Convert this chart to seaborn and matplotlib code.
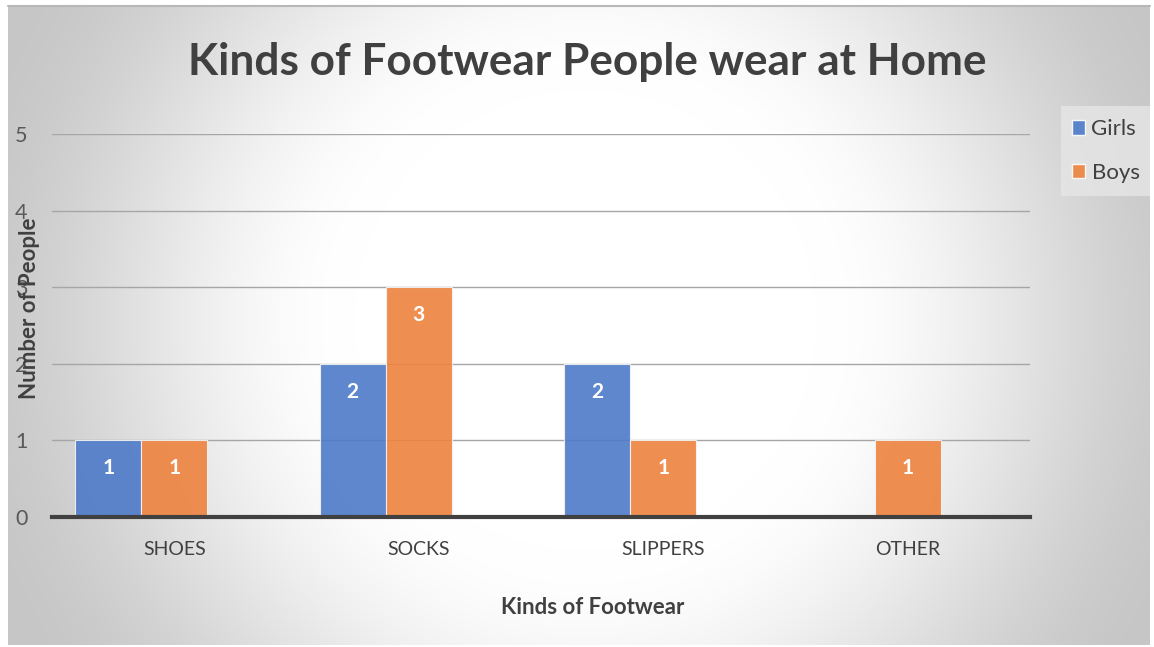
import numpy as np
import pandas as pd
import matplotlib
matplotlib.use("Agg")
import matplotlib.pyplot as plt
import seaborn as sns
from matplotlib.patches import Rectangle

# ---- data ----
categories = ["SHOES", "SOCKS", "SLIPPERS", "OTHER"]
girls = [1, 2, 2, 0]
boys = [1, 3, 1, 1]
series_names = ["Girls", "Boys"]
y_ticks = [0, 1, 2, 3, 4, 5]
title_text = "Kinds of Footwear People wear at Home"
x_label = "Kinds of Footwear"
y_label = "Number of People"

sns.set_theme(style="white")
plt.rcParams["font.family"] = ["Lato", "DejaVu Sans"]

df = pd.DataFrame({
    "Category": categories * 2,
    "Series": [series_names[0]] * len(categories) + [series_names[1]] * len(categories),
    "Count": girls + boys,
})

W, H = 1154, 647
fig = plt.figure(figsize=(W / 100, H / 100), dpi=100)
fig.patch.set_facecolor("white")

# ---- radial gradient background ----
bx0, by0, bx1, by1 = 8, 6, 1150, 645  # pixel box (top-left origin)
bg = fig.add_axes([bx0 / W, 1 - by1 / H, (bx1 - bx0) / W, (by1 - by0) / H])
bw, bh = bx1 - bx0, by1 - by0
yy, xx = np.mgrid[0:bh, 0:bw]
cx, cy = 585 - bx0, 320 - by0
dist = np.sqrt((xx - cx) ** 2 + (yy - cy) ** 2)
dn = dist / np.sqrt(cx ** 2 + cy ** 2)
t = np.clip((dn - 0.35) / 0.65, 0, 1)
s = 3 * t ** 2 - 2 * t ** 3
val = (255 - 57 * s) / 255.0
img = np.dstack([val, val, val])
bg.imshow(img, aspect="auto", extent=[0, 1, 0, 1], origin="upper", interpolation="bilinear")
bg.set_axis_off()
bg.plot([0, 1], [1, 1], color="#B8B8B8", lw=1.5, transform=bg.transAxes, clip_on=False)

# ---- plot axes ----
ax = fig.add_axes([52 / W, 1 - 517 / H, (1030 - 52) / W, (517 - 134) / H])
ax.patch.set_alpha(0)

palette = {"Girls": "#4D7AC9", "Boys": "#ED833E", " ": "#FFFFFF"}
# Excel reserves a third (empty) slot in each group, so the Boys bar sits on the category centre
hue_slots = series_names + [" "]
sns.barplot(data=df, x="Category", y="Count", hue="Series", order=categories,
            hue_order=hue_slots, palette=palette, width=0.81, gap=0, saturation=1,
            alpha=0.9, edgecolor="#F4F4F4", linewidth=0.8, legend=False, ax=ax,
            zorder=3)

ax.set_ylim(0, 5)
ax.set_xlim(-0.5, len(categories) - 0.5)
ax.set_yticks(y_ticks)
ax.yaxis.grid(True, color="#A6A6A6", linewidth=1.0, zorder=0)
ax.set_axisbelow(True)
for sp in ["top", "right", "left"]:
    ax.spines[sp].set_visible(False)
ax.spines["bottom"].set_color("#404040")
ax.spines["bottom"].set_linewidth(3)
ax.spines["bottom"].set_zorder(5)
ax.tick_params(axis="y", length=0, pad=22, labelsize=15.5, labelcolor="#595959")
ax.tick_params(axis="x", length=0, pad=17.5, labelsize=14, labelcolor="#404040")
for lab in ax.get_yticklabels():
    lab.set_horizontalalignment("center")
ax.set_xlabel("")
ax.set_ylabel("")

fig.text(593 / W, 1 - 608 / H, x_label, ha="center", va="center",
         fontsize=16, fontweight="bold", color="#404040")

# y label overlapping tick labels, as in the reference
fig.text(30 / W, 1 - 308 / H, y_label, rotation=90, ha="center", va="center",
         fontsize=16, fontweight="bold", color="#404040")

# data labels inside end
for p in ax.patches:
    h = p.get_height()
    if h and h > 0:
        ax.annotate(f"{int(round(h))}", (p.get_x() + p.get_width() / 2, h),
                    xytext=(0, -20), textcoords="offset points",
                    ha="center", va="center", fontsize=15, fontweight="bold",
                    color="white", zorder=6)

# title
fig.text(587 / W, 1 - 62 / H, title_text, ha="center", va="center",
         fontsize=31.8, fontweight="bold", color="#404040")

# legend
leg_ax = fig.add_axes([1061 / W, 1 - 196 / H, 89 / W, 90 / H])
leg_ax.set_axis_off()
leg_ax.add_patch(Rectangle((0, 0), 1, 1, transform=leg_ax.transAxes,
                           facecolor="#E6E6E6", edgecolor="none", alpha=0.8))
handles = [Rectangle((0, 0), 1, 1, facecolor=palette[n], alpha=0.9) for n in series_names]
leg = leg_ax.legend(handles, series_names, loc="center", frameon=False,
                    fontsize=16, handlelength=0.6, handleheight=0.6,
                    handletextpad=0.3, labelspacing=1.05, labelcolor="#404040")

fig.savefig("out.png", dpi=100)
